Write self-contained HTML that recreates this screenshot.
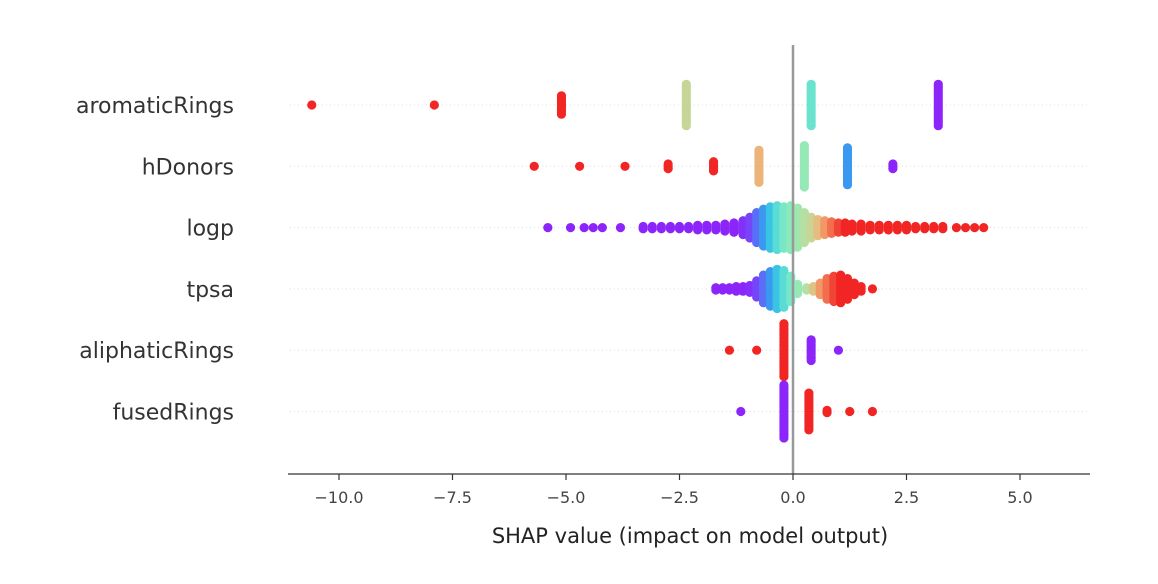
<!DOCTYPE html>
<html><head><meta charset="utf-8"><style>
body{margin:0;background:#fff;}
svg{display:block;font-family:"DejaVu Sans","Liberation Sans",sans-serif;}
</style></head><body>
<svg id="chart" width="1158" height="584" viewBox="0 0 1158 584" xmlns="http://www.w3.org/2000/svg">
<g id="grid"></g><g id="dots" opacity="0.85"></g><g id="axes"></g>
</svg>
<script>
const features = ["aromaticRings","hDonors","logp","tpsa","aliphaticRings","fusedRings"];
const xTicks = [-10,-7.5,-5,-2.5,0,2.5,5];
const xTickLabels = ["\u221210.0","\u22127.5","\u22125.0","\u22122.5","0.0","2.5","5.0"];
// per-feature clusters: shap value, number of stacked points, feature value (0=low,1=high)
const aromaticShap = [-10.6,-7.9,-5.1,-2.35,0.4,3.2];
const aromaticCount = [1,1,9,19,19,19];
const aromaticFeat = [1,1,1,0.64,0.42,0];
const hDonorsShap = [-5.7,-4.7,-3.7,-2.75,-1.75,-0.75,0.25,1.2,2.2];
const hDonorsCount = [1,1,1,3,5,15,19,17,3];
const hDonorsFeat = [1,1,1,1,1,0.74,0.52,0.2,0];
const logpShap = [-5.4,-4.9,-4.6,-4.4,-4.2,-3.8,-3.3,-3.1,-2.9,-2.7,-2.5,-2.3,-2.1,-1.9,-1.7,-1.5,-1.3,-1.1,-0.95,-0.8,-0.65,-0.5,-0.35,-0.2,-0.05,0.1,0.25,0.4,0.55,0.7,0.85,1.0,1.15,1.3,1.5,1.7,1.9,2.1,2.3,2.5,2.7,2.9,3.1,3.3,3.6,3.8,4.0,4.2];
const logpCount = [1,1,1,1,1,1,2,2,2,2,2,2,3,3,3,4,5,7,10,14,17,19,20,19,20,18,14,10,8,7,6,5,5,4,4,3,3,3,3,3,2,2,2,2,1,1,1,1];
const logpFeat = [0,0,0,0,0,0,0,0,0,0,0,0,0,0,0,0,0,0.02,0.05,0.12,0.2,0.3,0.38,0.45,0.5,0.55,0.6,0.65,0.72,0.8,0.88,0.95,1,1,1,1,1,1,1,1,1,1,1,1,1,1,1,1];
const tpsaShap = [-1.7,-1.55,-1.4,-1.25,-1.1,-0.95,-0.8,-0.65,-0.5,-0.35,-0.2,-0.05,0.1,0.3,0.45,0.6,0.75,0.9,1.05,1.2,1.35,1.5,1.75];
const tpsaCount = [2,2,2,3,3,4,8,13,16,18,17,12,5,2,3,6,10,12,13,10,6,3,1];
const tpsaFeat = [0,0,0,0,0,0.02,0.05,0.12,0.2,0.3,0.38,0.45,0.52,0.6,0.7,0.8,0.88,0.95,1,1,1,1,1];
const aliphaticShap = [-1.4,-0.8,-0.2,0.4,1.0];
const aliphaticCount = [1,1,24,10,1];
const aliphaticFeat = [1,1,1,0,0];
const fusedShap = [-1.15,-0.2,0.35,0.75,1.25,1.75];
const fusedCount = [1,24,17,2,1,1];
const fusedFeat = [0,0,1,1,1,1];

const shapArr=[aromaticShap,hDonorsShap,logpShap,tpsaShap,aliphaticShap,fusedShap];
const countArr=[aromaticCount,hDonorsCount,logpCount,tpsaCount,aliphaticCount,fusedCount];
const featArr=[aromaticFeat,hDonorsFeat,logpFeat,tpsaFeat,aliphaticFeat,fusedFeat];

const NS="http://www.w3.org/2000/svg";
const X0=793, PXU=45.4;
function xScale(v){return X0+v*PXU;}
function yScale(i){return 105+i*61.3;}
function rainbow(t){
  const r=Math.min(1,Math.abs(2*t-0.5)), g=Math.sin(Math.PI*t), b=Math.cos(Math.PI*t/2);
  return `rgb(${Math.round(r*240)},${Math.round(g*230)},${Math.round(b*250)})`;
}
function mk(tag,attrs,parent){const e=document.createElementNS(NS,tag);for(const k in attrs)e.setAttribute(k,attrs[k]);parent.appendChild(e);return e;}
const grid=document.getElementById('grid'),dots=document.getElementById('dots'),axes=document.getElementById('axes');

features.forEach((f,i)=>{
  const y=yScale(i);
  const gl=mk('line',{x1:290,x2:1090,y1:y,y2:y,stroke:'#ddd','stroke-width':1,'stroke-dasharray':'1,3'},grid);
  
  
  const t=mk('text',{x:234,y:y+8,'text-anchor':'end','font-size':22,fill:'#333'},axes);
  t.textContent=f;
  
  
  const sh=shapArr[i],cn=countArr[i],fv=featArr[i];
  sh.forEach((v,j)=>{
    const n=cn[j],cx=xScale(v),col=rainbow(fv[j]);
    for(let k=0;k<n;k++){
      const cy=y+(k-(n-1)/2)*2.3;
      const c=mk('circle',{cx:cx,cy:cy,r:4.6,fill:col},dots);
      
      
    }
  });
});
const zl=mk('line',{x1:X0,x2:X0,y1:45,y2:474,stroke:'#999','stroke-width':2.5},axes);


const ax=mk('line',{x1:288,x2:1090,y1:474,y2:474,stroke:'#333','stroke-width':1.3},axes);


xTicks.forEach((v,i)=>{
  const x=xScale(v);
  const tk=mk('line',{x1:x,x2:x,y1:474,y2:480,stroke:'#333','stroke-width':1.2},axes);
  
  
  const tl=mk('text',{x:x,y:503,'text-anchor':'middle','font-size':16,fill:'#444'},axes);
  tl.textContent=xTickLabels[i];
  
  
});
const xl=mk('text',{x:690,y:543,'text-anchor':'middle','font-size':21,fill:'#222'},axes);
xl.textContent='SHAP value (impact on model output)';


</script>
</body></html>
